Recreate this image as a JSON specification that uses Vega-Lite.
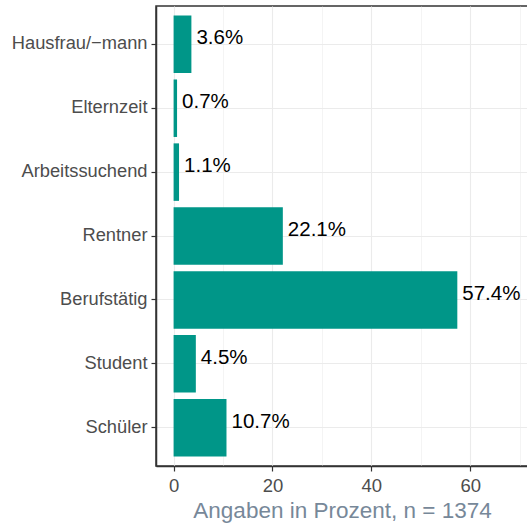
{
  "$schema": "https://vega.github.io/schema/vega-lite/v6.json",
  "width": 372,
  "height": 460,
  "autosize": {"type": "none"},
  "padding": {"left": 156, "top": 6, "right": 0, "bottom": 58},
  "config": {
    "font": "Liberation Sans",
    "view": {"stroke": "#333333", "strokeWidth": 1.5}
  },
  "data": {
    "values": [
      {"status": "Hausfrau/−mann", "pct": 3.6, "label": "3.6%"},
      {"status": "Elternzeit", "pct": 0.7, "label": "0.7%"},
      {"status": "Arbeitssuchend", "pct": 1.1, "label": "1.1%"},
      {"status": "Rentner", "pct": 22.1, "label": "22.1%"},
      {"status": "Berufstätig", "pct": 57.4, "label": "57.4%"},
      {"status": "Student", "pct": 4.5, "label": "4.5%"},
      {"status": "Schüler", "pct": 10.7, "label": "10.7%"}
    ]
  },
  "encoding": {
    "y": {
      "field": "status",
      "type": "nominal",
      "sort": ["Hausfrau/−mann", "Elternzeit", "Arbeitssuchend", "Rentner", "Berufstätig", "Student", "Schüler"],
      "scale": {"paddingInner": 0.1, "paddingOuter": 0.15},
      "axis": {
        "title": null,
        "grid": true,
        "bandPosition": 0.5,
        "labelFontSize": 18.3,
        "labelColor": "#4d4d4d",
        "labelPadding": 4,
        "tickColor": "#333333",
        "tickSize": 5,
        "tickWidth": 1.2,
        "domainColor": "#333333",
        "domainWidth": 1.5,
        "gridColor": "#ebebeb",
        "gridWidth": 1.1
      }
    }
  },
  "layer": [
    {
      "mark": {"type": "bar", "color": "#009688"},
      "encoding": {
        "x": {
          "field": "pct",
          "type": "quantitative",
          "scale": {"domain": [-3.56, 71.7], "nice": false, "zero": false},
          "axis": {
            "title": "Angaben in Prozent, n = 1374",
            "titleFontSize": 22.5,
            "titleFontWeight": "normal",
            "titleColor": "#778899",
            "titlePadding": 5,
            "values": [0, 10, 20, 30, 40, 50, 60, 70],
            "labelExpr": "datum.value % 20 === 0 ? datum.label : ''",
            "labelFlush": false,
            "labelOverlap": false,
            "labelFontSize": 18.5,
            "labelColor": "#4d4d4d",
            "labelPadding": 5,
            "tickColor": "#333333",
            "tickSize": 5,
            "tickWidth": 1.2,
            "tickOpacity": {"condition": {"test": "datum.value % 20 === 0", "value": 1}, "value": 0},
            "domainColor": "#333333",
            "domainWidth": 1.5,
            "gridColor": "#ebebeb",
            "gridWidth": {"condition": {"test": "datum.value % 20 === 0", "value": 1.1}, "value": 0.55}
          }
        },
        "x2": {"datum": 0}
      }
    },
    {
      "mark": {"type": "text", "align": "left", "baseline": "middle", "dx": 5, "dy": -6, "fontSize": 20.5, "color": "#000000"},
      "encoding": {
        "x": {"field": "pct", "type": "quantitative"},
        "text": {"field": "label"}
      }
    }
  ]
}
